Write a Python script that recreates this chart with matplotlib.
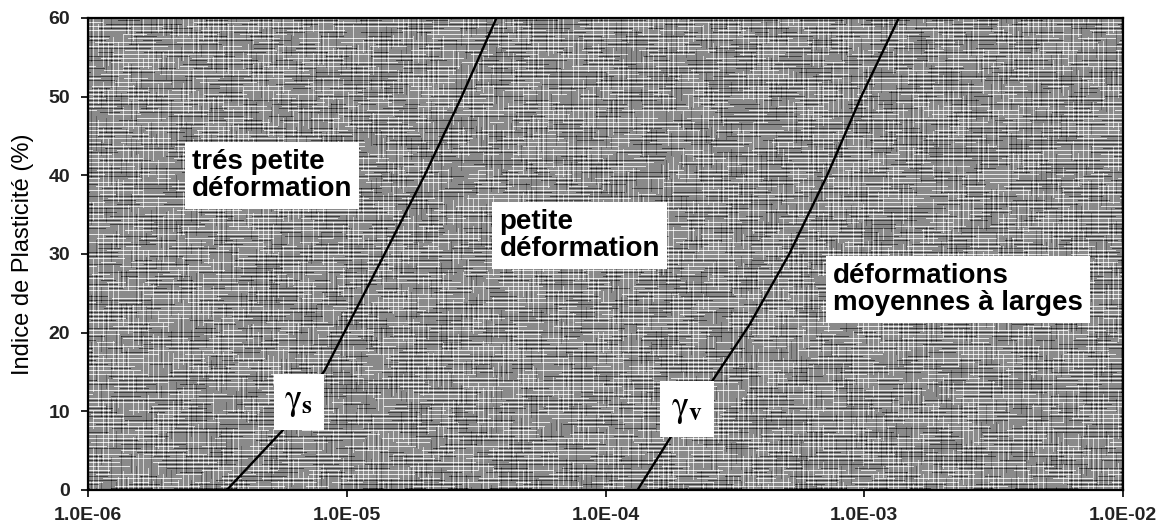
import numpy as np
import matplotlib
matplotlib.use("Agg")
import matplotlib.pyplot as plt

plt.rcParams["font.family"] = ["Liberation Sans", "DejaVu Sans"]
plt.rcParams["mathtext.fontset"] = "stix"

# Seuils de déformation en fonction de l'indice de plasticité
ip_s = [0, 7.6, 15.2, 30, 40, 50, 60]
gamma_s = [3.44e-6, 5.66e-6, 8.22e-6, 1.40e-5, 2.00e-5, 2.78e-5, 3.79e-5]

ip_v = [0, 6.9, 13.3, 21, 30, 40, 50, 60]
gamma_v = [1.33e-4, 1.80e-4, 2.52e-4, 3.60e-4, 5.13e-4, 7.19e-4, 9.73e-4, 1.36e-3]

x_ticks = [1e-6, 1e-5, 1e-4, 1e-3, 1e-2]
x_ticklabels = ["1.0E-06", "1.0E-05", "1.0E-04", "1.0E-03", "1.0E-02"]
y_ticks = [0, 10, 20, 30, 40, 50, 60]


def hash01(a):
    v = np.sin(a * 12.9898 + 4.1414) * 43758.5453
    return v - np.floor(v)


def grid_texture(h, w):
    """Grey cross-hatched fill, like a printed chart background."""
    r = np.arange(h)[:, None].astype(float)
    c = np.arange(w)[None, :].astype(float)
    img = np.full((h, w), 0.54)
    # long horizontal strokes, each row broken at its own places
    seg_h = np.floor((c + hash01(r * 3.1) * 40) / (14 + 20 * hash01(r * 0.7)))
    hv = hash01(r * 1.7 + seg_h * 0.37)
    img += np.where((r % 4 == 0) & (hv > 0.35), 0.36, 0.0)
    img -= np.where((r % 4 == 2) & (hv < 0.55), 0.28, 0.0)
    # vertical strokes
    seg_v = np.floor((r + hash01(c * 5.3) * 30) / (10 + 16 * hash01(c * 0.9)))
    vv = hash01(c * 2.3 + seg_v * 0.91)
    img += np.where((c % 5 == 0) & (vv > 0.4), 0.30, 0.0)
    img -= np.where((c % 5 == 3) & (vv < 0.35), 0.16, 0.0)
    return np.clip(img, 0, 1)


fig = plt.figure(figsize=(11.67, 5.26), dpi=100)
ax = fig.add_axes([88 / 1167, 1 - 490 / 526, (1123 - 88) / 1167, (490 - 18) / 526])
ax.set_xscale("log")
ax.set_xlim(1e-6, 1e-2)
ax.set_ylim(0, 60)

ax.imshow(grid_texture(472, 1035), cmap="gray", vmin=0, vmax=1, extent=[0, 1, 0, 1],
          transform=ax.transAxes, aspect="auto", interpolation="bilinear", zorder=0)

ax.plot(gamma_s, ip_s, color="black", lw=1.7, zorder=2)
ax.plot(gamma_v, ip_v, color="black", lw=1.7, zorder=2)

box = dict(boxstyle="square,pad=0.25", facecolor="white", edgecolor="none")
txt = dict(fontsize=20, fontweight="bold", color="black", zorder=5, linespacing=1.05)
ax.text(10 ** -5.60, 40.0, "trés petite\ndéformation", ha="left", va="center", bbox=box, **txt)
ax.text(10 ** -4.41, 32.3, "petite\ndéformation", ha="left", va="center", bbox=box, **txt)
ax.text(10 ** -3.12, 25.5, "déformations\nmoyennes à larges", ha="left", va="center", bbox=box, **txt)

gbox = dict(boxstyle="square,pad=0.3", facecolor="white", edgecolor="none")
ax.text(10 ** -5.185, 11.2, r"$\mathrm{\gamma}_{\mathbf{s}}$", fontsize=26, ha="center", va="center",
        bbox=gbox, zorder=5)
ax.text(10 ** -3.685, 10.3, r"$\mathrm{\gamma}_{\mathbf{v}}$", fontsize=26, ha="center", va="center",
        bbox=gbox, zorder=5)

ax.set_xticks(x_ticks)
ax.set_xticklabels(x_ticklabels)
ax.xaxis.set_minor_locator(matplotlib.ticker.NullLocator())
ax.set_yticks(y_ticks)
ax.tick_params(axis="both", direction="out", length=5, width=1.2, labelsize=14, colors="black")
ax.tick_params(axis="x", pad=7)
ax.tick_params(axis="y", pad=8)
for lab in ax.get_xticklabels() + ax.get_yticklabels():
    lab.set_fontweight("bold")
    lab.set_color("#222222")

for side in ["left", "bottom", "top", "right"]:
    ax.spines[side].set_linewidth(1.6)
    ax.spines[side].set_zorder(6)

ax.set_ylabel("Indice de Plasticité (%)", fontsize=17, labelpad=10)

fig.savefig("out.png", dpi=100)
